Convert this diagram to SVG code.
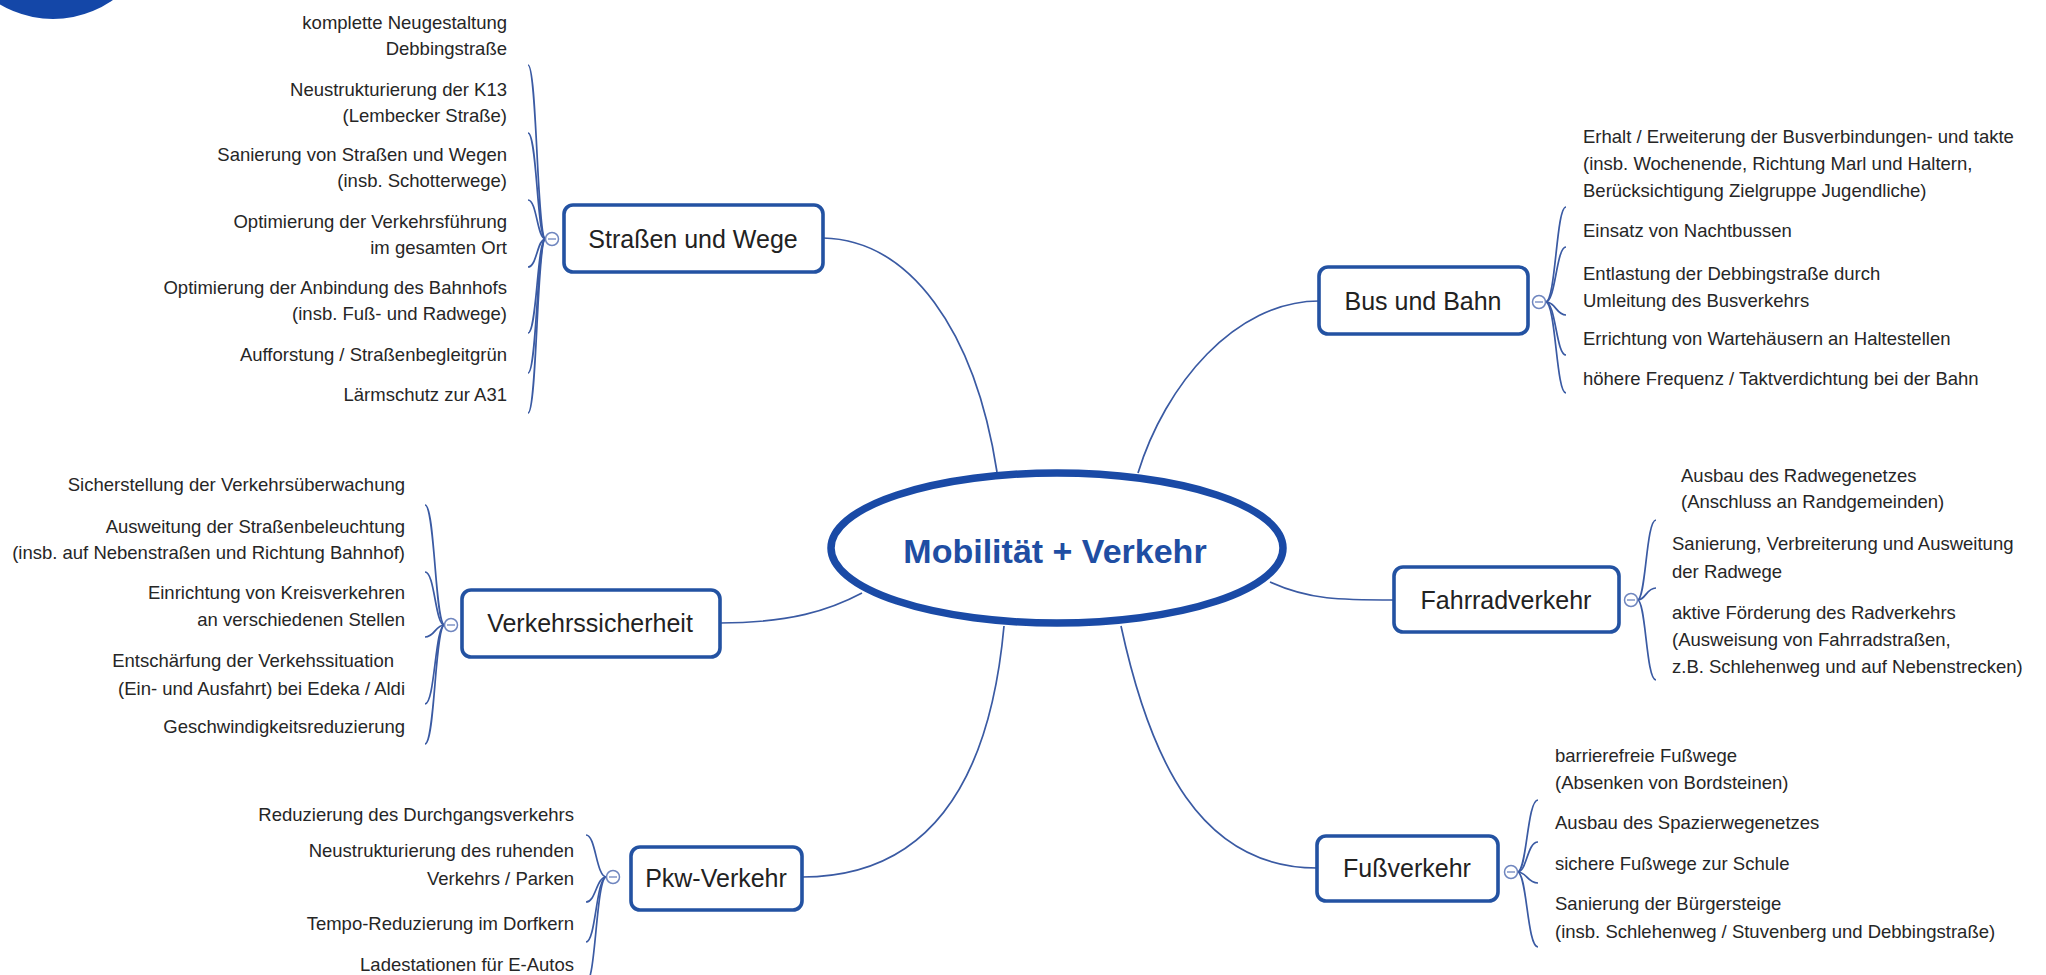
<svg xmlns="http://www.w3.org/2000/svg" width="2046" height="975" viewBox="0 0 2046 975">
<style>
.box{fill:#fff;stroke:#2352a2;stroke-width:3.6}
.lbl{font-family:"Liberation Sans",Arial,sans-serif;font-size:25px;fill:#222;text-anchor:middle}
.it{font-family:"Liberation Sans",Arial,sans-serif;font-size:18.5px;fill:#262626}
.r{text-anchor:end}
.conn path{fill:none;stroke:#3a5aa3;stroke-width:1.7}
.br path{fill:none;stroke:#3a5aa3;stroke-width:1.7}
.tog circle{fill:#fff;stroke:#6f86bf;stroke-width:1.5}
.tog line{stroke:#6f86bf;stroke-width:1.3}
</style>
<rect width="2046" height="975" fill="#fff"/>
<circle id="corner" cx="53" cy="-85" r="104" fill="#1447a8"/>

<g id="connectors" class="conn">
<path d="M823,238 C910,240 975,330 997,472"/>
<path d="M1319,301 C1235,301 1165,385 1138,473"/>
<path d="M720,623 C790,623 830,610 862,593"/>
<path d="M1270,582 C1310,600 1340,600 1394,600"/>
<path d="M1004,626 C990,780 930,877 802,877"/>
<path d="M1121,626 C1150,760 1200,868 1317,868"/>
</g>

<g id="center">
<ellipse cx="1057" cy="548" rx="226" ry="75" fill="#fff" stroke="#1a4aa6" stroke-width="7.5"/>
<text x="1055" y="563" font-family="'Liberation Sans',Arial,sans-serif" font-size="34" font-weight="bold" fill="#1f4ea3" text-anchor="middle">Mobilität + Verkehr</text>
</g>

<g id="strassen">
<g class="br">
<path d="M545.5,239 C537,239 537,65 528,65"/>
<path d="M545.5,239 C537,239 537,133 528,133"/>
<path d="M545.5,239 C537,239 537,200 528,200"/>
<path d="M545.5,239 C537,239 537,267 528,267"/>
<path d="M545.5,239 C537,239 537,333 528,333"/>
<path d="M545.5,239 C537,239 537,373 528,373"/>
<path d="M545.5,239 C537,239 537,413 528,413"/>
</g>
<g class="tog"><circle cx="552" cy="239" r="6.5"/><line x1="548" y1="239" x2="556" y2="239"/></g>
<rect class="box" x="564" y="205" width="259" height="67" rx="9"/>
<text class="lbl" x="693" y="248">Straßen und Wege</text>
<text class="it r" x="507" y="29">komplette Neugestaltung</text>
<text class="it r" x="507" y="55">Debbingstraße</text>
<text class="it r" x="507" y="96">Neustrukturierung der K13</text>
<text class="it r" x="507" y="122">(Lembecker Straße)</text>
<text class="it r" x="507" y="161">Sanierung von Straßen und Wegen</text>
<text class="it r" x="507" y="187">(insb. Schotterwege)</text>
<text class="it r" x="507" y="228">Optimierung der Verkehrsführung</text>
<text class="it r" x="507" y="254">im gesamten Ort</text>
<text class="it r" x="507" y="294">Optimierung der Anbindung des Bahnhofs</text>
<text class="it r" x="507" y="320">(insb. Fuß- und Radwege)</text>
<text class="it r" x="507" y="361">Aufforstung / Straßenbegleitgrün</text>
<text class="it r" x="507" y="401">Lärmschutz zur A31</text>
</g>

<g id="bus">
<g class="br">
<path d="M1545.5,302 C1556,302 1556,207 1566,207"/>
<path d="M1545.5,302 C1556,302 1556,247 1566,247"/>
<path d="M1545.5,302 C1556,302 1556,315 1566,315"/>
<path d="M1545.5,302 C1556,302 1556,355 1566,355"/>
<path d="M1545.5,302 C1556,302 1556,393 1566,393"/>
</g>
<g class="tog"><circle cx="1539" cy="302" r="6.5"/><line x1="1535" y1="302" x2="1543" y2="302"/></g>
<rect class="box" x="1319" y="267" width="209" height="67" rx="9"/>
<text class="lbl" x="1423" y="310">Bus und Bahn</text>
<text class="it" x="1583" y="143">Erhalt / Erweiterung der Busverbindungen- und takte</text>
<text class="it" x="1583" y="170">(insb. Wochenende, Richtung Marl und Haltern,</text>
<text class="it" x="1583" y="197">Berücksichtigung Zielgruppe Jugendliche)</text>
<text class="it" x="1583" y="237">Einsatz von Nachtbussen</text>
<text class="it" x="1583" y="280">Entlastung der Debbingstraße durch</text>
<text class="it" x="1583" y="307">Umleitung des Busverkehrs</text>
<text class="it" x="1583" y="345">Errichtung von Wartehäusern an Haltestellen</text>
<text class="it" x="1583" y="385">höhere Frequenz / Taktverdichtung bei der Bahn</text>
</g>

<g id="sicherheit">
<g class="br">
<path d="M444.5,625 C435,625 435,505 425,505"/>
<path d="M444.5,625 C435,625 435,572 425,572"/>
<path d="M444.5,625 C435,625 435,637 425,637"/>
<path d="M444.5,625 C435,625 435,704 425,704"/>
<path d="M444.5,625 C435,625 435,744 425,744"/>
</g>
<g class="tog"><circle cx="451" cy="625" r="6.5"/><line x1="447" y1="625" x2="455" y2="625"/></g>
<rect class="box" x="462" y="590" width="258" height="67" rx="9"/>
<text class="lbl" x="590" y="632">Verkehrssicherheit</text>
<text class="it r" x="405" y="491">Sicherstellung der Verkehrsüberwachung</text>
<text class="it r" x="405" y="533">Ausweitung der Straßenbeleuchtung</text>
<text class="it r" x="405" y="559">(insb. auf Nebenstraßen und Richtung Bahnhof)</text>
<text class="it r" x="405" y="599">Einrichtung von Kreisverkehren</text>
<text class="it r" x="405" y="626">an verschiedenen Stellen</text>
<text class="it r" x="394" y="667">Entschärfung der Verkehssituation</text>
<text class="it r" x="405" y="695">(Ein- und Ausfahrt) bei Edeka / Aldi</text>
<text class="it r" x="405" y="733">Geschwindigkeitsreduzierung</text>
</g>

<g id="fahrrad">
<g class="br">
<path d="M1637.5,600 C1646,600 1646,520 1656,520"/>
<path d="M1637.5,600 C1646,600 1646,588 1656,588"/>
<path d="M1637.5,600 C1646,600 1646,680 1656,680"/>
</g>
<g class="tog"><circle cx="1631" cy="600" r="6.5"/><line x1="1627" y1="600" x2="1635" y2="600"/></g>
<rect class="box" x="1394" y="567" width="225" height="65" rx="9"/>
<text class="lbl" x="1506" y="609">Fahrradverkehr</text>
<text class="it" x="1681" y="482">Ausbau des Radwegenetzes</text>
<text class="it" x="1681" y="508">(Anschluss an Randgemeinden)</text>
<text class="it" x="1672" y="550">Sanierung, Verbreiterung und Ausweitung</text>
<text class="it" x="1672" y="578">der Radwege</text>
<text class="it" x="1672" y="619">aktive Förderung des Radverkehrs</text>
<text class="it" x="1672" y="646">(Ausweisung von Fahrradstraßen,</text>
<text class="it" x="1672" y="673">z.B. Schlehenweg und auf Nebenstrecken)</text>
</g>

<g id="fuss">
<g class="br">
<path d="M1517.5,872 C1527,872 1527,800 1538,800"/>
<path d="M1517.5,872 C1527,872 1527,842 1538,842"/>
<path d="M1517.5,872 C1527,872 1527,883 1538,883"/>
<path d="M1517.5,872 C1527,872 1527,947 1538,947"/>
</g>
<g class="tog"><circle cx="1511" cy="872" r="6.5"/><line x1="1507" y1="872" x2="1515" y2="872"/></g>
<rect class="box" x="1317" y="836" width="181" height="65" rx="9"/>
<text class="lbl" x="1407" y="877">Fußverkehr</text>
<text class="it" x="1555" y="762">barrierefreie Fußwege</text>
<text class="it" x="1555" y="789">(Absenken von Bordsteinen)</text>
<text class="it" x="1555" y="829">Ausbau des Spazierwegenetzes</text>
<text class="it" x="1555" y="870">sichere Fußwege zur Schule</text>
<text class="it" x="1555" y="910">Sanierung der Bürgersteige</text>
<text class="it" x="1555" y="938">(insb. Schlehenweg / Stuvenberg und Debbingstraße)</text>
</g>

<g id="pkw">
<g class="br">
<path d="M606.5,877 C596,877 596,835 586,835"/>
<path d="M606.5,877 C596,877 596,902 586,902"/>
<path d="M606.5,877 C596,877 596,942 586,942"/>
<path d="M606.5,877 C596,877 596,983 586,983"/>
</g>
<g class="tog"><circle cx="613" cy="877" r="6.5"/><line x1="609" y1="877" x2="617" y2="877"/></g>
<rect class="box" x="631" y="847" width="171" height="63" rx="9"/>
<text class="lbl" x="716" y="887">Pkw-Verkehr</text>
<text class="it r" x="574" y="821">Reduzierung des Durchgangsverkehrs</text>
<text class="it r" x="574" y="857">Neustrukturierung des ruhenden</text>
<text class="it r" x="574" y="885">Verkehrs / Parken</text>
<text class="it r" x="574" y="930">Tempo-Reduzierung im Dorfkern</text>
<text class="it r" x="574" y="971">Ladestationen für E-Autos</text>
</g>
</svg>
